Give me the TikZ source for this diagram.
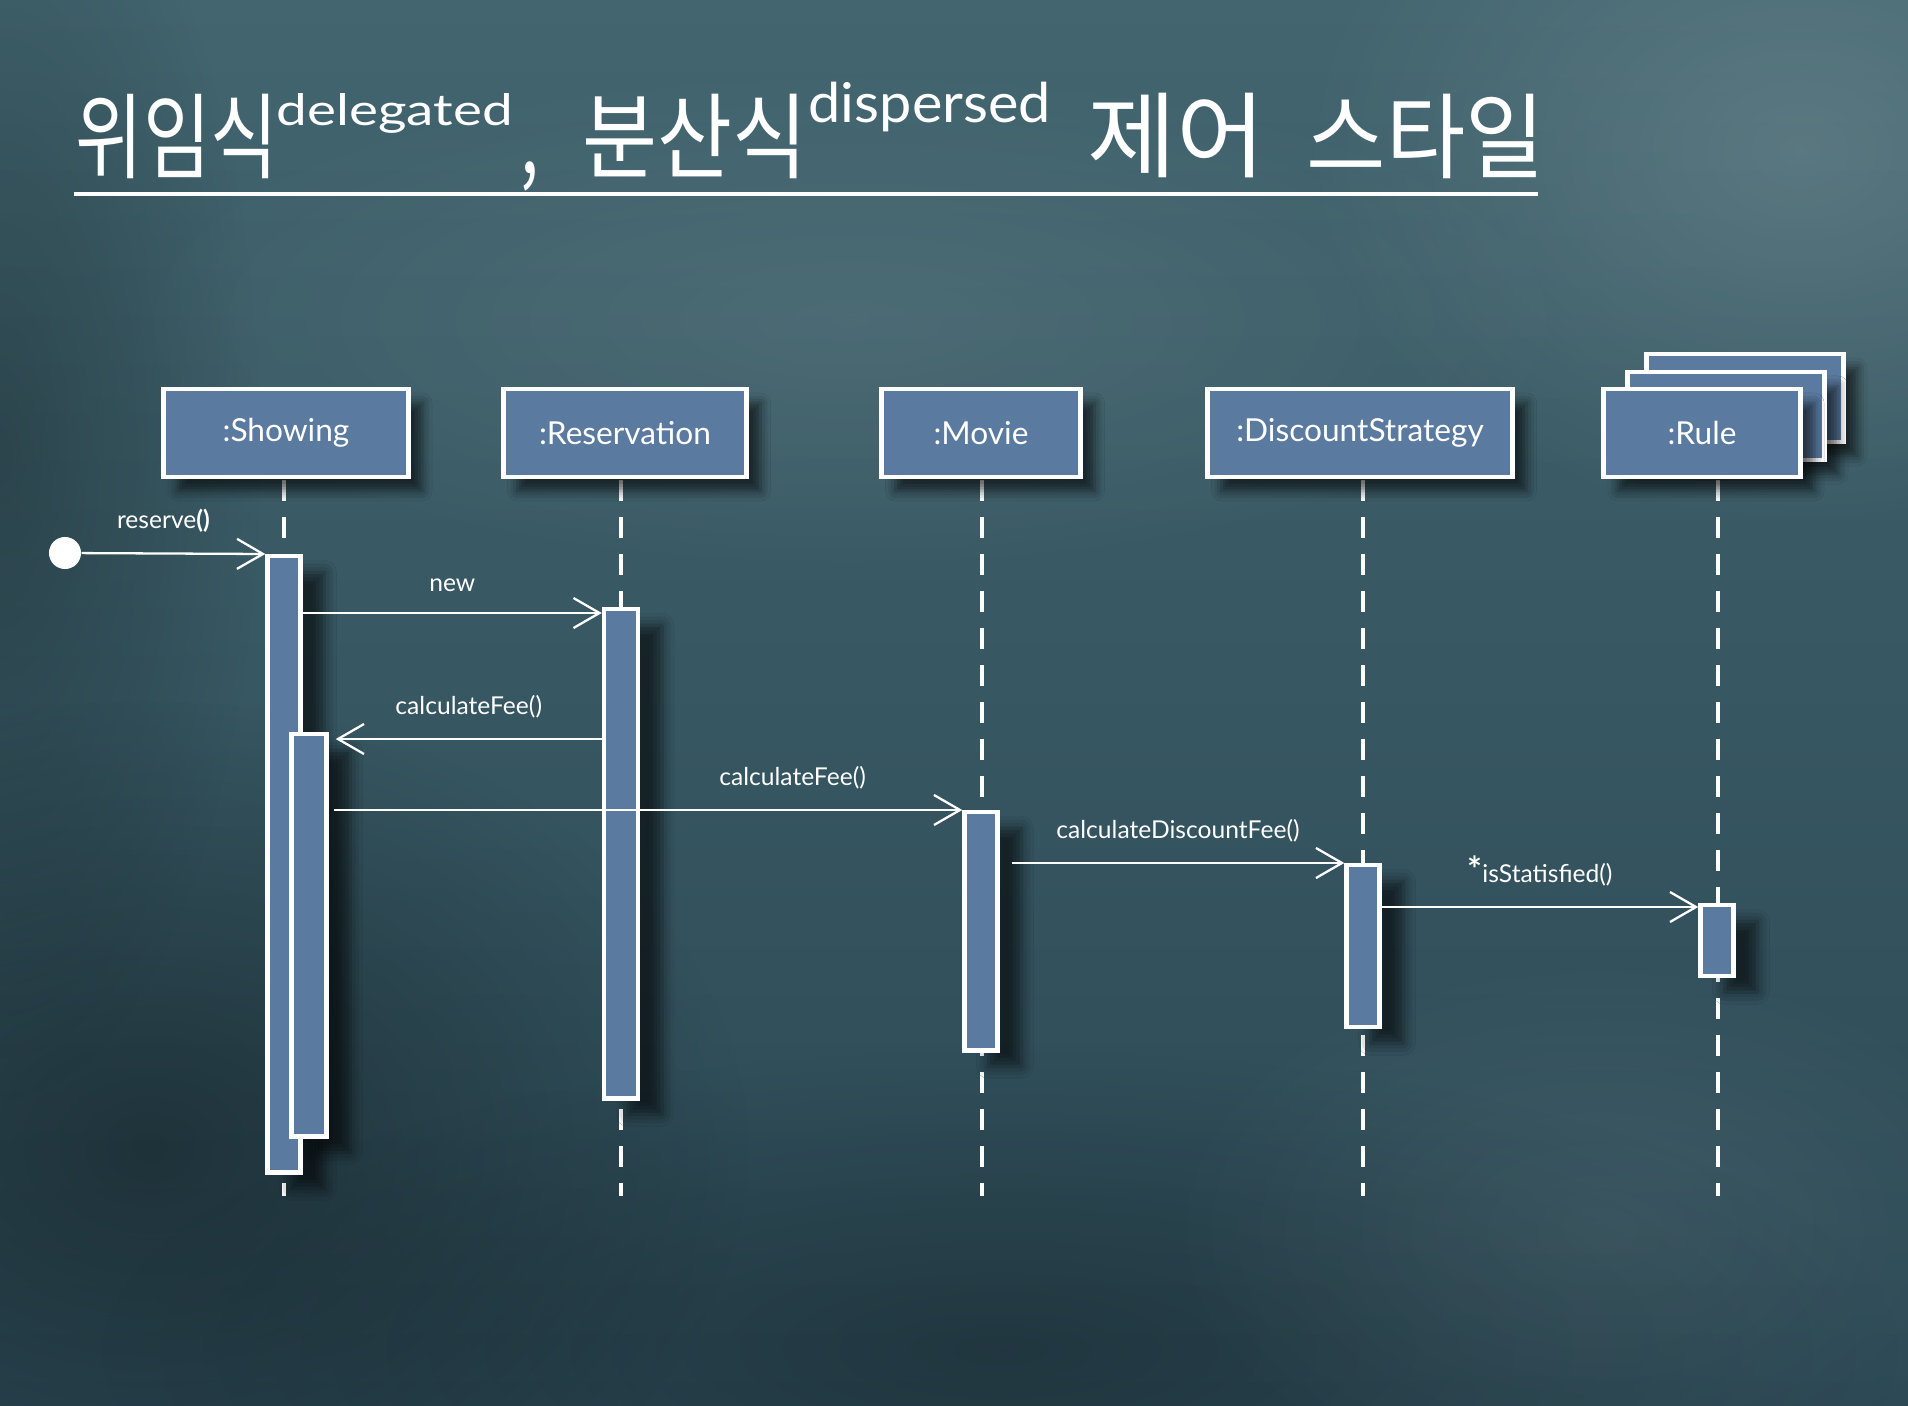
\documentclass[tikz,border=0pt]{standalone}
\usepackage{fontspec}
\setmainfont{Lato}
\newfontfamily\cjk{Noto Sans CJK KR}
\usetikzlibrary{arrows.meta, positioning, shadows.blur, fadings}
\definecolor{boxblue}{HTML}{5A7A9F}
\definecolor{bgTop}{HTML}{42656F}
\definecolor{bgBottom}{HTML}{2B4854}
\tikzfading[name=softblot, inner color=transparent!0, outer color=transparent!100]

\begin{document}
\begin{tikzpicture}[x=0.01cm, y=-0.01cm,
    titlekr/.style={text=white, inner sep=0pt, anchor=west, font=\cjk\fontsize{19}{19}\selectfont},
    titlesup/.style={text=white, inner sep=0pt, anchor=base west, font=\fontsize{13}{13}\selectfont},
    objbox/.style={draw=white, line width=1.4pt, fill=boxblue, text=white, minimum height=0.88cm, font=\fontsize{9}{11}\selectfont, blur shadow={shadow xshift=0.14cm, shadow yshift=-0.14cm, shadow opacity=60, shadow blur radius=0.1cm}},
    actbox/.style={draw=white, line width=1.25pt, fill=boxblue, anchor=north, minimum width=0.33cm, inner sep=0pt, blur shadow={shadow xshift=0.24cm, shadow yshift=-0.16cm, shadow opacity=60, shadow blur radius=0.12cm}},
    lifeline/.style={white, line width=1.4pt, dash pattern=on 0.21cm off 0.16cm},
    msg/.style={white, line width=0.65pt, -{Straight Barb[length=0.26cm, width=0.3cm]}},
    msglabel/.style={text=white, font=\fontsize{7}{8}\selectfont, above=0.08cm},
    blot/.style={path fading=softblot}]
    \useasboundingbox (0,0) rectangle (1908,1406);
    \shade[top color=bgTop, bottom color=bgBottom] (0,0) rectangle (1908,1406);
    \fill[black, opacity=0.35, blot] (150,1150) ellipse (600 and 450);
    \fill[black, opacity=0.25, blot] (1000,1350) ellipse (900 and 300);
    \fill[black, opacity=0.25, blot] (0,450) ellipse (260 and 650);
    \fill[white, opacity=0.14, blot] (1800,150) ellipse (500 and 380);
    \fill[white, opacity=0.08, blot] (850,320) ellipse (750 and 260);
    \fill[white, opacity=0.07, blot] (1600,1230) ellipse (450 and 280);

    \node[titlekr] (Delegated) at (75,136) {\scalebox{1.1}[1.4]{위임식}};
    \node[titlesup] (DelegatedEn) at (276,125) {\scalebox{1.2}[0.95]{delegated}};
    \node[titlekr] (Comma) at (520,176) {\scalebox{1}[1.4]{,}};
    \node[titlekr] (Dispersed) at (582,136) {\scalebox{1.22}[1.4]{분산식}};
    \node[titlesup] (DispersedEn) at (808,123) {\scalebox{1.26}[1.2]{dispersed}};
    \node[titlekr] (Control) at (1087,136) {\scalebox{1.45}[1.4]{제어}};
    \node[titlekr] (Style) at (1306,136) {\scalebox{1.29}[1.4]{스타일}};
    \draw[white, line width=1.15pt] (74,194) -- (1538,194);

    \coordinate (ShowingEnd) at (284,1196);
    \coordinate (ReservationEnd) at (621,1196);
    \coordinate (MovieEnd) at (982,1196);
    \coordinate (DiscountEnd) at (1363,1196);
    \coordinate (RuleEnd) at (1718,1196);
    \draw[lifeline] (284,480) -- (ShowingEnd);
    \draw[lifeline] (621,480) -- (ReservationEnd);
    \draw[lifeline] (982,480) -- (MovieEnd);
    \draw[lifeline] (1363,480) -- (DiscountEnd);
    \draw[lifeline] (1718,480) -- (RuleEnd);

    \node[objbox, minimum width=2.44cm] (Showing) at (286,433) {:Showing};
    \node[objbox, minimum width=2.43cm] (Reservation) at (625,433) {:Reservation};
    \node[objbox, minimum width=1.99cm] (Movie) at (981,433) {:Movie};
    \node[objbox, minimum width=3.05cm] (Discount) at (1360,433) {:DiscountStrategy};
    \node[objbox, minimum width=1.96cm] (RuleStack2) at (1745,398) {};
    \node[objbox, minimum width=1.96cm] (RuleStack1) at (1726,416) {};
    \node[objbox, minimum width=1.96cm] (Rule) at (1702,433) {:Rule};

    \node[actbox, minimum height=6.16cm] (ShowingAct) at (284,554) {};
    \node[actbox, minimum height=4.02cm, minimum width=0.35cm] (ShowingAct2) at (309,732) {};
    \node[actbox, minimum height=4.89cm, minimum width=0.34cm] (ReservationAct) at (621,607) {};
    \node[actbox, minimum height=2.38cm] (MovieAct) at (981,810) {};
    \node[actbox, minimum height=1.62cm] (DiscountAct) at (1363,863) {};
    \node[actbox, minimum height=0.71cm] (RuleAct) at (1717,903) {};

    \node[circle, fill=white, inner sep=0pt, minimum size=0.32cm] (Start) at (65,553) {};
    \coordinate (NewEnd) at ([yshift=-0.06cm]ReservationAct.north west);
    \coordinate (FeeBack) at ([xshift=0.07cm, yshift=-0.07cm]ShowingAct2.north east);
    \coordinate (RuleIn) at ([yshift=-0.04cm]RuleAct.north west);

    \draw[msg] (Start) -- (ShowingAct.north west) node[msglabel, midway, xshift=-0.1cm] {reserve\textbf{()}};
    \draw[msg] (ShowingAct.east |- NewEnd) -- (NewEnd) node[msglabel, midway] {new};
    \draw[msg] (ReservationAct.west |- FeeBack) -- (FeeBack) node[msglabel, midway] {calculateFee()};
    \draw[msg] (ShowingAct2.east |- MovieAct.north west) ++(5,0) -- (MovieAct.north west) node[msglabel, pos=0.73] {calculateFee()};
    \draw[msg] (MovieAct.east |- DiscountAct.north west) ++(12,0) -- (DiscountAct.north west) node[msglabel, midway] {calculateDiscountFee()};
    \draw[msg] (DiscountAct.east |- RuleIn) -- (RuleIn) node[msglabel, midway] {{\fontsize{10}{10}\selectfont\textbf{*}}isStatisfied()};
\end{tikzpicture}
\end{document}
